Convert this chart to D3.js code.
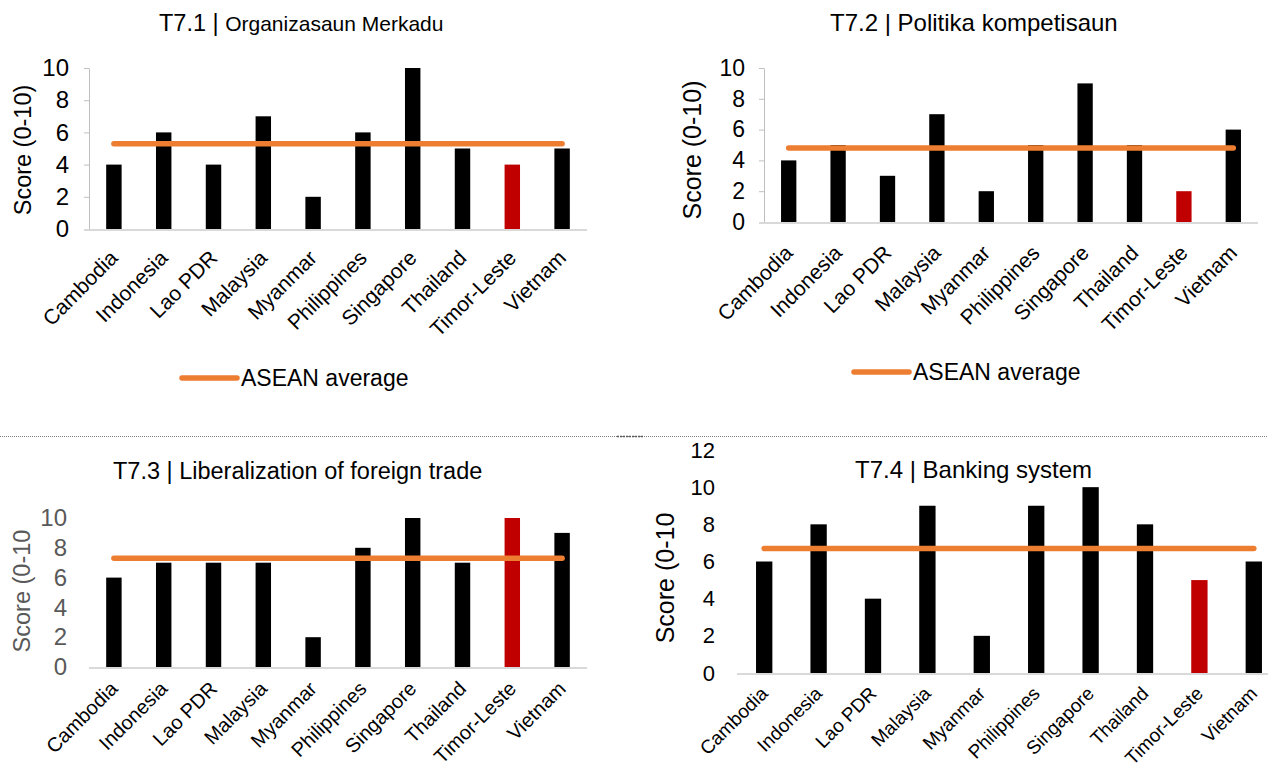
<!DOCTYPE html>
<html>
<head>
<meta charset="utf-8">
<script src="https://cdn.jsdelivr.net/npm/d3@7"></script>
<style>
  html, body { margin: 0; padding: 0; background: #fff; }
  svg { display: block; font-family: "Liberation Sans", Arial, sans-serif; }
</style>
</head>
<body>
<svg id="chart" width="1268" height="774"></svg>
<script>
// ---------------- data ----------------
const categories = ["Cambodia","Indonesia","Lao PDR","Malaysia","Myanmar","Philippines","Singapore","Thailand","Timor-Leste","Vietnam"];
const highlight = "Timor-Leste";
const t71Values = [4, 6, 4, 7, 2, 6, 10, 5, 4, 5];
const t72Values = [4, 5, 3, 7, 2, 5, 9, 5, 2, 6];
const t73Values = [6, 7, 7, 7, 2, 8, 10, 7, 10, 9];
const t74Values = [6, 8, 4, 9, 2, 9, 10, 8, 5, 6];
const aseanAverages = [5.3, 4.8, 7.3, 6.7];
const ticks10 = [0, 2, 4, 6, 8, 10];
const ticks12 = [0, 2, 4, 6, 8, 10, 12];
const titlePrefixes = ["T7.1 | ", "T7.2 | ", "T7.3 | ", "T7.4 | "];
const titleTexts = ["Organizasaun Merkadu", "Politika kompetisaun", "Liberalization of foreign trade", "Banking system"];
const yLabels = ["Score (0-10)", "Score (0-10)", "Score (0-10", "Score (0-10"];
const legendLabel = "ASEAN average";

// ---------------- layout ----------------
const svg = d3.select("#chart");
const BAR = "#000000", RED = "#C00000", ORANGE = "#ED7D31";

const panels = [
  { values: t71Values, avg: aseanAverages[0], ticks: ticks10, x0: 89, x1: 587, yBase: 229, yTop: 68, axisLine: true,
    tickColor: "#000", tickFont: 24, labelPad: 20, xFont: 21, xOff: 25,
    prefixSize: 23.5, titleSize: 21, titleX: 159, titleY: 31,
    yl: { x: 23, y: 150, size: 23.5, color: "#000" },
    legend: { x: 182, y: 378 }, pad: 0.69 },
  { values: t72Values, avg: aseanAverages[1], ticks: ticks10, x0: 764, x1: 1258, yBase: 222, yTop: 68, axisLine: true,
    tickColor: "#000", tickFont: 23, labelPad: 19, xFont: 21, xOff: 27,
    prefixSize: 24, titleSize: 24, titleX: 830, titleY: 31,
    yl: { x: 692, y: 150, size: 25, color: "#000" },
    legend: { x: 854, y: 372 }, pad: 0.69 },
  { values: t73Values, avg: aseanAverages[2], ticks: ticks10, x0: 89, x1: 587, yBase: 667, yTop: 518, axisLine: false,
    tickColor: "#595959", tickFont: 24, labelPad: 22, xFont: 20, xOff: 18,
    prefixSize: 23.5, titleSize: 23.5, titleX: 113, titleY: 479,
    yl: { x: 22, y: 591, size: 23.5, color: "#595959" },
    legend: null, pad: 0.69 },
  { values: t74Values, avg: aseanAverages[3], ticks: ticks12, x0: 737, x1: 1281, yBase: 673, yTop: 450, axisLine: false,
    tickColor: "#000", tickFont: 22, labelPad: 22, xFont: 19, xOff: 17,
    prefixSize: 24, titleSize: 24, titleX: 855, titleY: 478,
    yl: { x: 665, y: 578, size: 25, color: "#000" },
    legend: null, pad: 0.7 }
];

// separator (dotted)
svg.append("line").attr("x1", 0).attr("x2", 1268).attr("y1", 436.5).attr("y2", 436.5)
  .attr("stroke", "#7f7f7f").attr("stroke-width", 1).attr("stroke-dasharray", "1,1");
svg.append("line").attr("x1", 617).attr("x2", 643).attr("y1", 436.5).attr("y2", 436.5)
  .attr("stroke", "#595959").attr("stroke-width", 1.5).attr("stroke-dasharray", "2,1");

panels.forEach((p, i) => {
  const g = svg.append("g");
  const yMax = d3.max(p.ticks);
  const x = d3.scaleBand().domain(categories).range([p.x0, p.x1])
    .paddingInner(p.pad).paddingOuter(p.pad / 2);
  const y = d3.scaleLinear().domain([0, yMax]).range([p.yBase, p.yTop]);

  // title
  const t = g.append("text").attr("x", p.titleX).attr("y", p.titleY).attr("fill", "#000");
  t.append("tspan").attr("font-size", p.prefixSize).text(titlePrefixes[i]);
  t.append("tspan").attr("font-size", p.titleSize).text(titleTexts[i]);

  // y axis
  const tickLen = p.axisLine ? 5 : 0;
  const yAxis = d3.axisLeft(y).tickValues(p.ticks).tickFormat(d3.format("d"))
    .tickSize(tickLen).tickSizeOuter(0).tickPadding(p.labelPad - tickLen);
  const ya = g.append("g").attr("transform", `translate(${p.x0},0)`).call(yAxis);
  ya.select(".domain").attr("stroke", p.axisLine ? "#bfbfbf" : "none");
  ya.selectAll(".tick line").attr("stroke", "#bfbfbf");
  ya.selectAll(".tick text").attr("font-size", p.tickFont).attr("fill", p.tickColor)
    .attr("font-family", "Liberation Sans, Arial, sans-serif");

  // bars
  g.append("g").selectAll("rect").data(p.values).join("rect")
    .attr("x", (d, j) => x(categories[j]))
    .attr("width", x.bandwidth())
    .attr("y", d => y(d))
    .attr("height", d => y(0) - y(d))
    .attr("fill", (d, j) => categories[j] === highlight ? RED : BAR);

  // category axis
  const xAxis = d3.axisBottom(x).tickSize(0).tickSizeOuter(0).tickPadding(0);
  const xa = g.append("g").attr("transform", `translate(0,${p.yBase})`).call(xAxis);
  xa.select(".domain").remove();
  g.append("line").attr("x1", p.x0 - tickLen).attr("x2", Math.min(p.x1, 1268))
    .attr("y1", p.yBase + 1).attr("y2", p.yBase + 1)
    .attr("stroke", "#d9d9d9").attr("stroke-width", 2);
  xa.selectAll(".tick text")
    .attr("font-size", p.xFont).attr("fill", "#000")
    .attr("font-family", "Liberation Sans, Arial, sans-serif")
    .attr("text-anchor", "end")
    .attr("x", 0).attr("y", 0).attr("dy", "0.35em")
    .attr("transform", `translate(0,${p.xOff}) rotate(-45)`);

  // ASEAN average line
  const avgSeries = categories.map(c => ({ c, v: p.avg }));
  const line = d3.line().x(d => x(d.c) + x.bandwidth() / 2).y(d => y(d.v));
  g.append("path").datum(avgSeries).attr("d", line)
    .attr("fill", "none").attr("stroke", ORANGE).attr("stroke-width", 5.5)
    .attr("stroke-linecap", "round");

  // y label
  g.append("text").attr("transform", `translate(${p.yl.x},${p.yl.y}) rotate(-90)`)
    .attr("text-anchor", "middle").attr("dy", "0.35em")
    .attr("font-size", p.yl.size).attr("fill", p.yl.color).text(yLabels[i]);

  // legend
  if (p.legend) {
    const lg = g.append("g").attr("transform", `translate(${p.legend.x},${p.legend.y})`);
    lg.append("line").attr("x1", 0).attr("x2", 55).attr("y1", 0).attr("y2", 0)
      .attr("stroke", ORANGE).attr("stroke-width", 5.5).attr("stroke-linecap", "round");
    lg.append("text").attr("x", 59).attr("y", 0).attr("dy", "0.35em")
      .attr("font-size", 23).attr("fill", "#000").text(legendLabel);
  }
});
</script>
</body>
</html>
